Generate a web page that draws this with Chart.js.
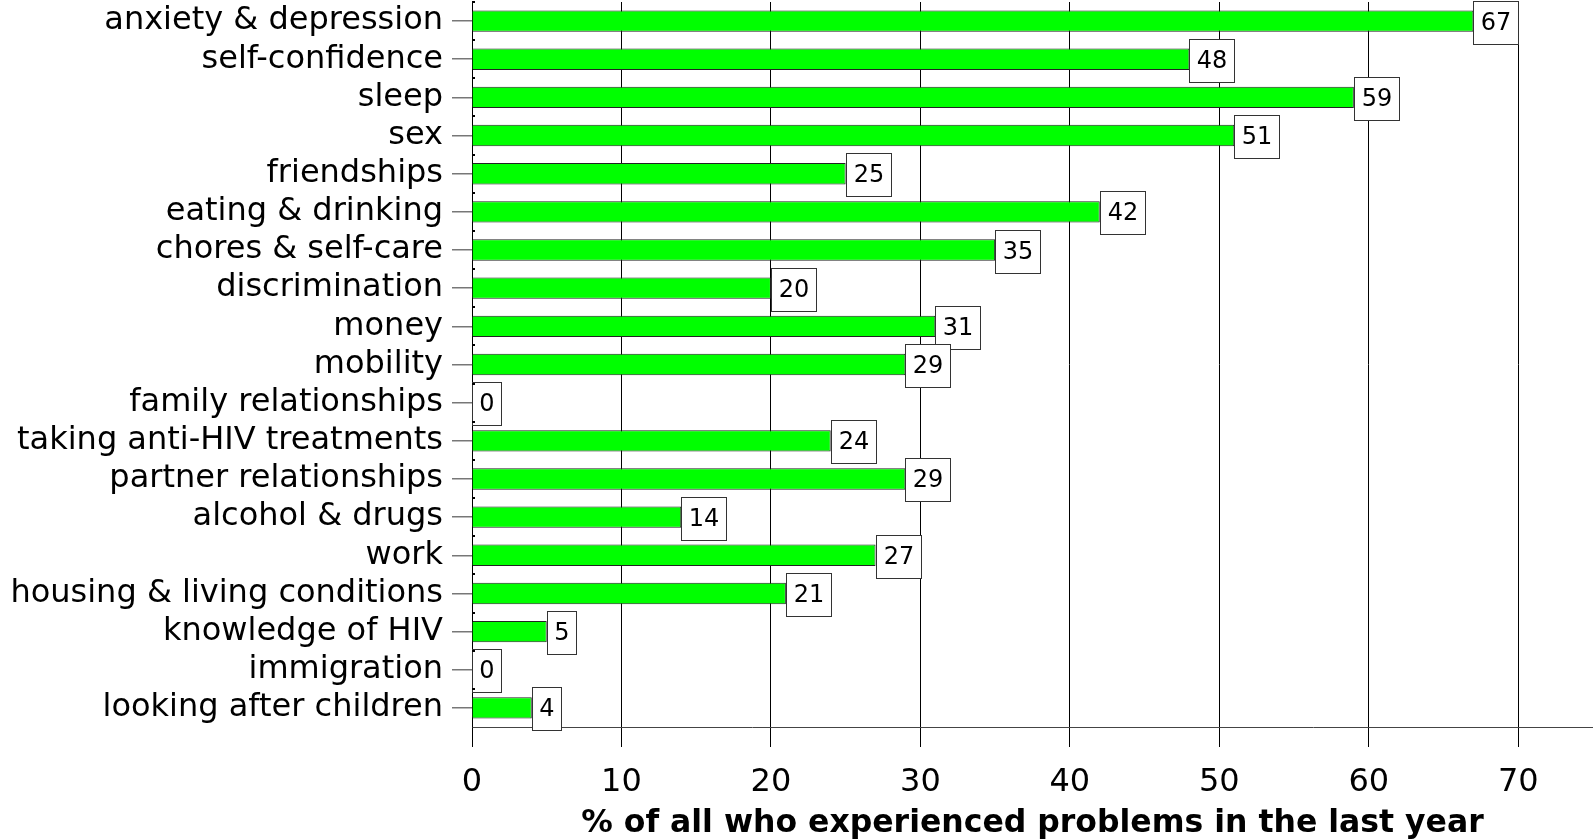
<!DOCTYPE html>
<html><head><meta charset="utf-8">
<script src="https://cdn.jsdelivr.net/npm/chart.js@4"></script>
<style>html,body{margin:0;padding:0;background:#fff}#wrap{width:1593px;height:840px}</style>
</head><body>
<div id="wrap"><canvas id="c" width="1593" height="840"></canvas></div>
<script>
const categories = [
  'anxiety & depression','self-confidence','sleep','sex','friendships',
  'eating & drinking','chores & self-care','discrimination','money','mobility',
  'family relationships','taking anti-HIV treatments','partner relationships',
  'alcohol & drugs','work','housing & living conditions','knowledge of HIV',
  'immigration','looking after children'
];
const values = [67,48,59,51,25,42,35,20,31,29,0,24,29,14,27,21,5,0,4];
const xTicks = [0,10,20,30,40,50,60,70];
const xTitle = '% of all who experienced problems in the last year';

const FONT = '"DejaVu Sans", Verdana, sans-serif';

const boxLabels = {
  id: 'boxLabels',
  afterDatasetsDraw(chart) {
    const ctx = chart.ctx;
    const meta = chart.getDatasetMeta(0);
    ctx.save();
    ctx.font = '24px ' + FONT;
    ctx.textBaseline = 'middle';
    ctx.textAlign = 'center';
    meta.data.forEach((bar, i) => {
      const txt = String(values[i]);
      const w = Math.round(ctx.measureText(txt).width) + 14;
      const h = 43;
      const x = Math.round(bar.x) + 0.5;
      const y = Math.round(bar.y - h / 2) + 1.5;
      ctx.fillStyle = '#fff';
      ctx.fillRect(x, y, w, h);
      ctx.strokeStyle = '#333';
      ctx.lineWidth = 1;
      ctx.strokeRect(x, y, w, h);
      ctx.fillStyle = '#000';
      ctx.fillText(txt, x + w / 2, y + h / 2 + 1);
    });
    const ys = chart.scales.y;
    const band = (ys.bottom - ys.top) / categories.length;
    ctx.strokeStyle = '#000';
    ctx.lineWidth = 2;
    for (let i = 0; i < categories.length; i++) {
      const yy = Math.round(ys.top + i * band);
      ctx.beginPath();
      ctx.moveTo(chart.chartArea.left, yy);
      ctx.lineTo(chart.chartArea.left + 3, yy);
      ctx.stroke();
    }
    ctx.restore();
  }
};

new Chart(document.getElementById('c'), {
  type: 'bar',
  data: {
    labels: categories,
    datasets: [{
      data: values,
      backgroundColor: '#00ff00',
      borderColor: '#222',
      borderWidth: 1,
      barPercentage: 0.56,
      categoryPercentage: 1
    }]
  },
  options: {
    indexAxis: 'y',
    responsive: false,
    animation: false,
    devicePixelRatio: 1,
    layout: { padding: { top: 2, right: 0, left: 0, bottom: 0 } },
    plugins: { legend: { display: false }, tooltip: { enabled: false } },
    scales: {
      x: {
        type: 'linear',
        min: 0,
        max: 75,
        afterBuildTicks(scale) { scale.ticks = xTicks.map(v => ({ value: v })); },
        afterFit(scale) { scale.height = 113; scale.paddingLeft = 0; scale.paddingRight = 0; },
        grid: {
          color: '#000',
          lineWidth: 1,
          tickLength: 20,
          tickColor: '#000'
        },
        border: { display: true, color: '#444', width: 1 },
        ticks: {
          color: '#000',
          font: { family: FONT, size: 32 },
          padding: 16,
          maxRotation: 0,
          autoSkip: false
        },
        title: {
          display: true,
          text: xTitle,
          color: '#000',
          font: { family: FONT, size: 31.5, weight: 'bold', lineHeight: 1 },
          padding: 0
        }
      },
      y: {
        type: 'category',
        offset: true,
        afterFit(scale) { scale.width = 472; scale.paddingTop = 0; scale.paddingBottom = 0; },
        grid: {
          display: true,
          drawOnChartArea: false,
          offset: false,
          tickLength: 20,
          tickColor: '#777',
          lineWidth: 1.5
        },
        border: { display: true, color: '#000', width: 1 },
        ticks: {
          color: '#000',
          font: { family: FONT, size: 32 },
          padding: 9,
          autoSkip: false
        }
      }
    }
  },
  plugins: [boxLabels]
});
</script>
</body></html>
